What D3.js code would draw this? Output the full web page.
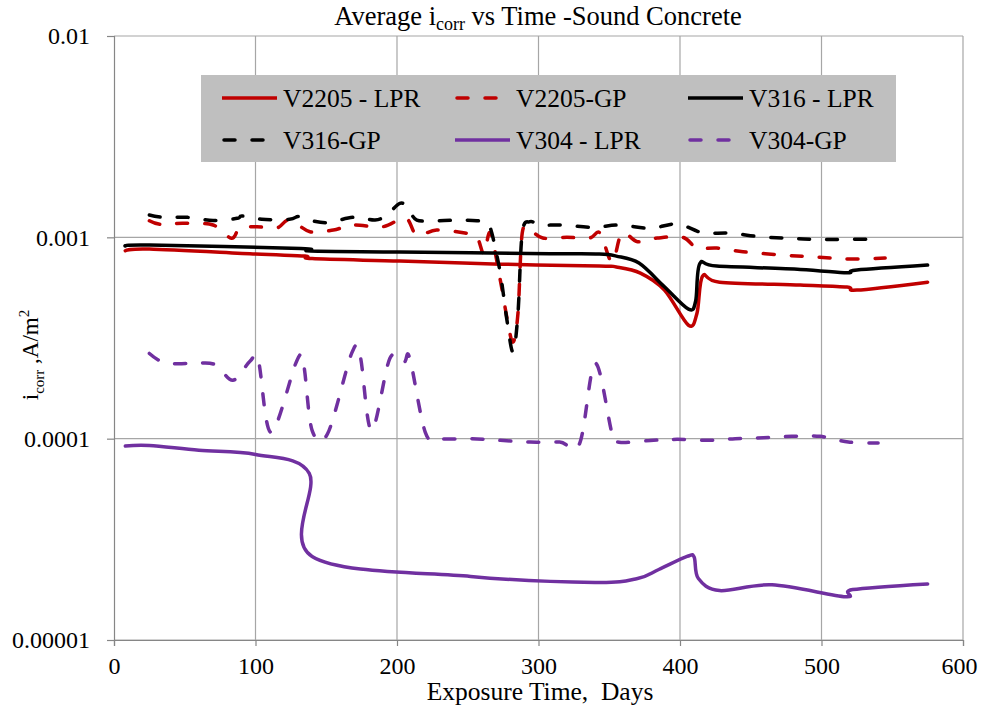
<!DOCTYPE html>
<html>
<head>
<meta charset="utf-8">
<script src="https://cdn.jsdelivr.net/npm/d3@7"></script>
<style>
body { margin: 0; background: #fff; }
</style>
</head>
<body>
<div id="graphic"></div>
<script>
// --- data (days, A/m2) ---
var xTicks = [0, 100, 200, 300, 400, 500, 600];
var yTicks = [0.01, 0.001, 0.0001, 0.00001];
var yTickLabels = ["0.01", "0.001", "0.0001", "0.00001"];

var v2205LprDays = [8, 25, 100, 135, 140, 202, 273, 343, 355, 372, 389, 406, 412, 416, 428, 485, 518, 525, 575];
var v2205LprVals = [8.58e-4, 8.75e-4, 8.26e-4, 8.07e-4, 7.84e-4, 7.62e-4, 7.36e-4, 7.20e-4, 7.12e-4, 6.64e-4, 5.47e-4, 3.66e-4, 4.2e-4, 6.42e-4, 5.99e-4, 5.79e-4, 5.66e-4, 5.47e-4, 5.99e-4];

var v2205GpDays = [25, 33, 49, 70, 83, 89, 101, 115, 124, 138.5, 155, 169, 190, 206, 214, 228, 248, 256.5, 261.5, 266, 273, 278, 282, 285.5, 288.5, 294, 303, 320, 336, 343.5, 352, 359, 370, 384, 402, 412, 426, 444.5, 473, 497, 520, 545];
var v2205GpVals = [1.209e-3, 1.161e-3, 1.174e-3, 1.151e-3, 0.989e-3, 1.112e-3, 1.129e-3, 1.112e-3, 1.219e-3, 1.066e-3, 1.087e-3, 1.151e-3, 1.129e-3, 1.247e-3, 1.027e-3, 1.087e-3, 1.05e-3, 1.0e-3, 0.826e-3, 1.05e-3, 0.613e-3, 0.388e-3, 0.302e-3, 0.42e-3, 1.05e-3, 1.087e-3, 0.992e-3, 1.0e-3, 0.992e-3, 1.05e-3, 0.753e-3, 1.05e-3, 0.951e-3, 0.992e-3, 1.0e-3, 0.885e-3, 0.885e-3, 0.848e-3, 0.816e-3, 0.798e-3, 0.78e-3, 0.789e-3];

var v316LprDays = [8, 25, 132, 139, 202, 308, 343, 355, 371, 389, 406, 411, 414, 426, 485, 518, 525, 575];
var v316LprVals = [9.05e-4, 9.16e-4, 8.81e-4, 8.55e-4, 8.45e-4, 8.30e-4, 8.26e-4, 8.07e-4, 7.45e-4, 5.68e-4, 4.40e-4, 4.8e-4, 7.4e-4, 7.2e-4, 6.93e-4, 6.67e-4, 6.88e-4, 7.28e-4];

var v316GpDays = [25, 35, 52, 70, 87, 90.5, 104.5, 124, 130, 135, 150.5, 169, 184.5, 193, 202, 208, 214, 230, 244.5, 256.5, 263.5, 267, 273, 277.7, 282, 285.5, 288.5, 294, 301, 317, 338, 357.5, 379, 398, 416, 435, 456.5, 477.5, 497, 518, 543];
var v316GpVals = [1.291e-3, 1.257e-3, 1.257e-3, 1.212e-3, 1.243e-3, 1.276e-3, 1.229e-3, 1.229e-3, 1.269e-3, 1.233e-3, 1.182e-3, 1.257e-3, 1.219e-3, 1.291e-3, 1.476e-3, 1.399e-3, 1.219e-3, 1.209e-3, 1.219e-3, 1.209e-3, 1.182e-3, 1.05e-3, 0.664e-3, 0.388e-3, 0.27e-3, 0.42e-3, 1.05e-3, 1.196e-3, 1.151e-3, 1.151e-3, 1.121e-3, 1.151e-3, 1.109e-3, 1.165e-3, 1.054e-3, 1.05e-3, 1.007e-3, 0.989e-3, 0.977e-3, 0.977e-3, 0.977e-3];

var v304LprDays = [8, 25, 60, 100, 138, 140, 252, 340, 370, 385, 405, 410, 413, 428, 465, 517, 522, 575];
var v304LprVals = [9.19e-5, 9.26e-5, 8.75e-5, 8.35e-5, 6.72e-5, 2.60e-5, 2.07e-5, 1.93e-5, 2.02e-5, 2.24e-5, 2.60e-5, 2.58e-5, 2.02e-5, 1.76e-5, 1.88e-5, 1.64e-5, 1.78e-5, 1.90e-5];

var v304GpDays = [25, 36, 54, 71, 84, 96, 102, 111, 129, 134, 140, 151, 168, 174, 182, 195, 205, 209, 220, 230, 252, 273, 294, 315, 329, 340, 352, 357, 379, 398, 419, 439, 459, 479, 499, 519, 540];
var v304GpVals = [2.65e-4, 2.38e-4, 2.36e-4, 2.34e-4, 1.95e-4, 2.42e-4, 2.45e-4, 1.075e-4, 2.42e-4, 2.34e-4, 1.10e-4, 1.06e-4, 2.66e-4, 2.57e-4, 1.10e-4, 2.51e-4, 2.40e-4, 2.51e-4, 1.075e-4, 1.0e-4, 1.0e-4, 0.981e-4, 0.962e-4, 0.962e-4, 0.944e-4, 2.37e-4, 1.06e-4, 0.96e-4, 0.98e-4, 0.992e-4, 0.981e-4, 1.0e-4, 1.011e-4, 1.027e-4, 1.027e-4, 0.962e-4, 0.951e-4];

var seriesNames = ["V2205 - LPR", "V2205-GP", "V316 - LPR", "V316-GP", "V304 - LPR", "V304-GP"];
var seriesColors = ["#c00000", "#c00000", "#000000", "#000000", "#7030a0", "#7030a0"];
var seriesDashed = [false, true, false, true, false, true];
var seriesDays = [v2205LprDays, v2205GpDays, v316LprDays, v316GpDays, v304LprDays, v304GpDays];
var seriesVals = [v2205LprVals, v2205GpVals, v316LprVals, v316GpVals, v304LprVals, v304GpVals];

var serif = "'Liberation Serif', 'Times New Roman', serif";
var width = 984, height = 715;
var margin = {top: 36, right: 21, bottom: 75, left: 114};

var svg = d3.select("#graphic").append("svg")
	.attr("width", width)
	.attr("height", height);

var x = d3.scaleLinear().domain([0, 600]).range([margin.left, width - margin.right]);
var y = d3.scaleLog().domain([0.00001, 0.01]).range([height - margin.bottom, margin.top]);

// grid
var grid = svg.append("g");
grid.selectAll(".hgrid").data(yTicks).enter().append("line")
	.attr("x1", x(0)).attr("x2", x(600))
	.attr("y1", function(d) { return y(d); }).attr("y2", function(d) { return y(d); })
	.attr("stroke", "#a6a6a6").attr("stroke-width", 1.2);
grid.selectAll(".vgrid").data(xTicks.slice(1)).enter().append("line")
	.attr("x1", function(d) { return x(d); }).attr("x2", function(d) { return x(d); })
	.attr("y1", y(0.01)).attr("y2", y(0.00001))
	.attr("stroke", "#a6a6a6").attr("stroke-width", 1.2);

// axes
var xAxis = svg.append("g")
	.attr("transform", "translate(0," + y(0.00001) + ")")
	.call(d3.axisBottom(x).tickValues(xTicks).tickSize(6).tickPadding(11));
var yAxis = svg.append("g")
	.attr("transform", "translate(" + x(0) + ",0)")
	.call(d3.axisLeft(y).tickValues(yTicks).tickSize(7).tickPadding(17)
		.tickFormat(function(d, i) { return yTickLabels[i]; }));

[xAxis, yAxis].forEach(function(a) {
	a.select(".domain").attr("stroke", "#868686").attr("stroke-width", 1.2);
	a.selectAll(".tick line").attr("stroke", "#868686").attr("stroke-width", 1.2);
	a.selectAll(".tick text")
		.style("font-family", serif)
		.style("font-size", "24px")
		.attr("fill", "#000");
});
// the last label sits a little inside the image edge
xAxis.selectAll(".tick text").filter(function(d) { return d === 600; }).attr("dx", -4);

// lines
var line = d3.line()
	.x(function(d) { return x(d[0]); })
	.y(function(d) { return y(d[1]); })
	.curve(d3.curveCardinal.tension(0));

var plot = svg.append("g");
seriesNames.forEach(function(name, i) {
	var pts = seriesDays[i].map(function(d, j) { return [d, seriesVals[i][j]]; });
	plot.append("path")
		.datum(pts)
		.attr("d", line)
		.attr("fill", "none")
		.attr("stroke", seriesColors[i])
		.attr("stroke-width", 3.5)
		.attr("stroke-linecap", "round")
		.attr("stroke-linejoin", "round")
		.attr("stroke-dasharray", seriesDashed[i] ? "11,17" : null);
});

// legend
var legend = svg.append("g");
legend.append("rect")
	.attr("x", 201).attr("y", 75)
	.attr("width", 695).attr("height", 87)
	.attr("fill", "#bfbfbf");

var legendItems = legend.selectAll(".leg").data(seriesNames).enter().append("g")
	.attr("transform", function(d, i) {
		var col = i % 3, row = Math.floor(i / 3);
		return "translate(" + (222 + col * 233) + "," + (98 + row * 42) + ")";
	});
legendItems.append("line")
	.attr("x1", 0).attr("x2", 55).attr("y1", 0).attr("y2", 0)
	.attr("stroke", function(d, i) { return seriesColors[i]; })
	.attr("stroke-width", 3.5)
	.attr("stroke-linecap", function(d, i) { return seriesDashed[i] ? "round" : "butt"; })
	.attr("stroke-dasharray", function(d, i) { return seriesDashed[i] ? "11,17" : null; })
	.attr("transform", function(d, i) { return seriesDashed[i] ? "translate(2,0)" : null; });
legendItems.append("text")
	.attr("x", 61).attr("y", 0).attr("dy", "0.35em")
	.style("font-family", serif)
	.style("font-size", "25.5px")
	.text(function(d) { return d; });

// title
var title = svg.append("text")
	.attr("x", 538).attr("y", 25)
	.attr("text-anchor", "middle")
	.style("font-family", serif)
	.style("font-size", "26.5px");
title.append("tspan").text("Average i");
title.append("tspan").attr("dy", 5).style("font-size", "18px").text("corr");
title.append("tspan").attr("dy", -5).text(" vs Time -Sound Concrete");

// axis titles
svg.append("text")
	.attr("x", 540).attr("y", 700)
	.attr("text-anchor", "middle")
	.attr("xml:space", "preserve")
	.style("white-space", "pre")
	.style("font-family", serif)
	.style("font-size", "25.5px")
	.text("Exposure Time,  Days");

var ytitle = svg.append("text")
	.attr("transform", "translate(38,355) rotate(-90)")
	.attr("text-anchor", "middle")
	.style("font-family", serif)
	.style("font-size", "23px");
ytitle.append("tspan").text("i");
ytitle.append("tspan").attr("dy", 6).style("font-size", "15px").text("corr");
ytitle.append("tspan").attr("dy", -6).text(" ,A/m");
ytitle.append("tspan").attr("dy", -9).style("font-size", "15px").text("2");
</script>
</body>
</html>
